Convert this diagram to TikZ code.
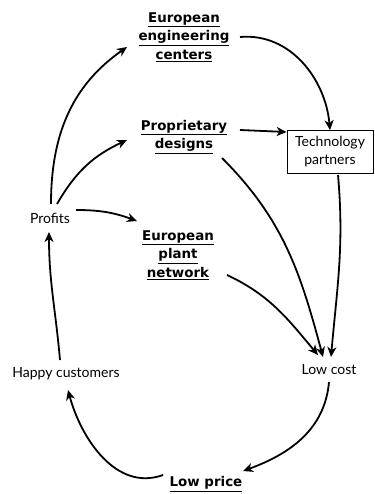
\documentclass[tikz,border=0pt]{standalone}
\usepackage{fontspec}
\setmainfont{Lato}
\newfontfamily\keyfont{DejaVu Sans}
\usetikzlibrary{arrows.meta}
\begin{document}
\begin{tikzpicture}[x=1pt,y=-1pt,
  lbl/.style={font=\fontsize{14}{18}\selectfont, align=center, inner sep=1pt},
  key/.style={lbl, font=\keyfont\fontsize{13.4}{18.5}\selectfont\bfseries},
  boxed/.style={lbl, draw, line width=0.7pt, minimum width=86pt, minimum height=43pt},
  link/.style={line width=1.8pt, -{Stealth[length=10pt,width=9pt,inset=3pt]}}]
\useasboundingbox (0,0) rectangle (374,494);
\node[key] (eec) at (184,37) {\underline{European}\\\underline{engineering}\\\underline{centers}};
\node[key] (pd) at (184,137) {\underline{Proprietary}\\\underline{designs}};
\node[boxed] (tp) at (330,152) {Technology\\partners};
\node[lbl] (pr) at (50,218) {Profits};
\node[key] (epn) at (178,255) {\underline{European}\\\underline{plant}\\\underline{network}};
\node[lbl] (hc) at (66,374) {Happy customers};
\node[lbl] (lc) at (329,370) {Low cost};
\node[key] (lp) at (206,484) {\underline{Low price}};
\coordinate (a1) at (51,204);
\coordinate (a2) at (57,204);
\coordinate (a3) at (76,210);
\draw[link] (a1) to[out=90,in=-145] (127,47);
\draw[link] (a2) to[out=60,in=-155] (127,140);
\draw[link] (a3) to[out=0,in=160] (137,221);
\draw[link] (240,37) to[out=5,in=95] (tp.north);
\draw[link] (240,130) -- (tp.west |- 0,132);
\draw[link] (222,158) to[out=-45,in=105] (323,357);
\draw[link] (227,275) to[out=-25,in=130] (318,355);
\draw[link] (338,175) to[out=-85,in=85] (331,357);
\draw[link] (329,382) to[out=-95,in=20] (243,471);
\draw[link] (163,475) to[out=-160,in=-75] (68,390);
\draw[link] (60,360) to[out=95,in=-90] (49,232);
\end{tikzpicture}
\end{document}
